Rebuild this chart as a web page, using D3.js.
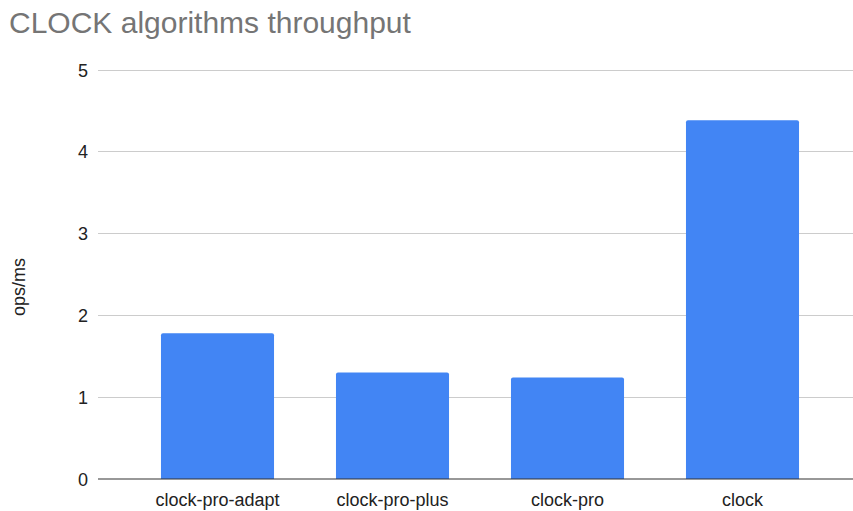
<!DOCTYPE html>
<html>
<head>
<meta charset="utf-8">
<script src="https://cdn.jsdelivr.net/npm/d3@7/dist/d3.min.js"></script>
<style>
  body { margin: 0; background: #fff; }
  svg { display: block; font-family: "Liberation Sans", Arial, sans-serif; }
</style>
</head>
<body>
<svg id="chart" width="853" height="511"></svg>
<script>
// Throughput per algorithm (ops/ms)
const categories = ["clock-pro-adapt", "clock-pro-plus", "clock-pro", "clock"];
const throughput = [1.78, 1.30, 1.24, 4.38];
const yTicks = [0, 1, 2, 3, 4, 5];

const svg = d3.select("#chart");

const x = d3.scaleBand().domain(categories).range([130, 830]).paddingInner(0.354).paddingOuter(0.177);
const y = d3.scaleLinear().domain([0, 5]).range([479, 69.5]);

// Title
svg.append("text")
  .attr("x", 9).attr("y", 33)
  .attr("font-size", 30).attr("fill", "#757575")
  .text("CLOCK algorithms throughput");

// Horizontal gridlines
const gridX0 = 98, gridX1 = 853;
svg.append("g").selectAll("line").data(yTicks.filter(d => d !== 0)).join("line")
  .attr("x1", gridX0).attr("x2", gridX1)
  .attr("y1", d => Math.round(y(d)) + 0.5).attr("y2", d => Math.round(y(d)) + 0.5)
  .attr("stroke", "#cccccc").attr("stroke-width", 1);

// Y tick labels
svg.append("g").selectAll("text").data(yTicks).join("text")
  .attr("x", 88).attr("y", d => y(d) + 7)
  .attr("text-anchor", "end").attr("font-size", 18).attr("fill", "#222")
  .text(d => d);

// Bars with slightly rounded tops
svg.append("g").selectAll("path").data(categories).join("path")
  .attr("fill", "#4285f4")
  .attr("d", (c, i) => {
    const x0 = x(c), w = x.bandwidth(), top = y(throughput[i]), bot = y(0), r = 2;
    return `M${x0},${bot} L${x0},${top + r} Q${x0},${top} ${x0 + r},${top} L${x0 + w - r},${top} Q${x0 + w},${top} ${x0 + w},${top + r} L${x0 + w},${bot} Z`;
  });

// Baseline
svg.append("line")
  .attr("x1", gridX0).attr("x2", gridX1)
  .attr("y1", y(0)).attr("y2", y(0))
  .attr("stroke", "#333333").attr("stroke-width", 1.2);

// X category labels
svg.append("g").selectAll("text").data(categories).join("text")
  .attr("x", c => x(c) + x.bandwidth() / 2).attr("y", 506)
  .attr("text-anchor", "middle").attr("font-size", 18).attr("fill", "#222")
  .text(c => c);

// Y axis title
svg.append("text")
  .attr("transform", "translate(25,287) rotate(-90)")
  .attr("text-anchor", "middle").attr("font-size", 18).attr("fill", "#222")
  .text("ops/ms");
</script>
</body>
</html>
